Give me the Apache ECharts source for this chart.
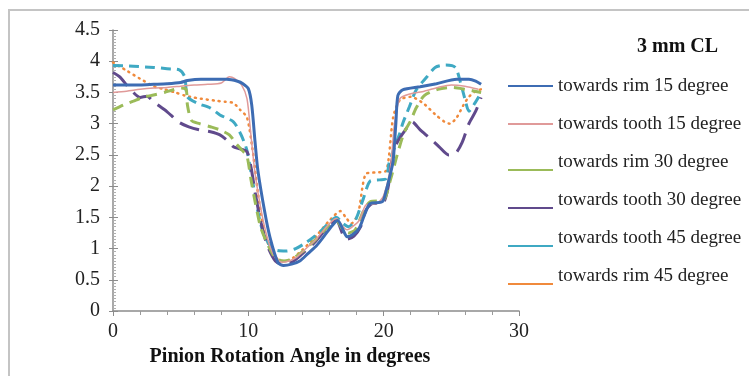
<!DOCTYPE html>
<html>
<head>
<meta charset="utf-8">
<script src="https://cdn.jsdelivr.net/npm/echarts@6/dist/echarts.min.js"></script>
<style>
html,body{margin:0;padding:0;background:#fff;}
#chart{width:749px;height:376px;}
</style>
</head>
<body>
<div id="chart"></div>
<script>
var seriesNames = ['towards rim 15 degree','towards tooth 15 degree','towards rim 30 degree','towards tooth 30 degree','towards tooth 45 degree','towards rim 45 degree'];
var xTicks = [0, 10, 20, 30];
var yTicks = [0, 0.5, 1, 1.5, 2, 2.5, 3, 3.5, 4, 4.5];

var rim15 = [[0,3.62],[1,3.62],[2,3.62],[3,3.63],[4,3.64],[5,3.66],[5.5,3.69],[6.5,3.71],[7.5,3.71],[8.4,3.71],[9.2,3.68],[9.6,3.64],[10.0,3.56],[10.25,3.3],[10.5,2.7],[10.7,2.26],[11.2,1.6],[11.6,1.18],[12.2,0.77],[12.6,0.73],[13.2,0.75],[13.8,0.8],[14.4,0.92],[15.05,1.05],[15.6,1.2],[16.2,1.37],[16.6,1.45],[17.0,1.3],[17.3,1.19],[17.7,1.22],[18.2,1.33],[18.6,1.55],[19.0,1.72],[19.9,1.75],[20.2,1.94],[20.5,2.2],[20.7,2.4],[20.9,3.0],[21.05,3.45],[21.4,3.54],[22.7,3.59],[23.9,3.64],[25.4,3.71],[26.3,3.71],[26.8,3.68],[27.2,3.63]];
var tooth15 = [[0,3.5],[1,3.52],[2,3.55],[3,3.57],[4,3.58],[5,3.6],[6,3.62],[7,3.63],[8,3.65],[8.6,3.75],[9.0,3.72],[9.5,3.62],[9.9,3.4],[10.2,2.8],[10.5,2.2],[11,1.55],[11.5,1.1],[12,0.85],[12.5,0.78],[13,0.8],[13.5,0.85],[14,0.95],[15,1.15],[16,1.4],[16.5,1.48],[17,1.35],[17.3,1.3],[17.7,1.35],[18.2,1.45],[18.7,1.7],[19.5,1.72],[20,1.85],[20.5,2.3],[20.8,3.0],[21.2,3.4],[22,3.48],[23,3.52],[24,3.58],[25,3.62],[26,3.6],[27,3.55]];
var rim30 = [[0,3.22],[0.8,3.3],[1.5,3.36],[2.2,3.42],[3,3.46],[3.8,3.5],[4.4,3.54],[5.0,3.57],[5.4,3.55],[5.5,3.3],[5.8,3.05],[6.4,3.0],[7.2,2.95],[7.9,2.9],[8.6,2.82],[9.1,2.68],[9.6,2.56],[9.9,2.48],[10.2,2.1],[10.5,1.75],[10.9,1.35],[11.4,1.08],[12,0.85],[12.6,0.8],[13.2,0.83],[14,0.95],[15,1.15],[16,1.38],[16.5,1.45],[17,1.3],[17.4,1.25],[17.9,1.3],[18.5,1.6],[19,1.75],[20,1.78],[20.5,2.1],[21,2.5],[21.5,2.85],[22,3.05],[22.4,3.25],[23,3.45],[24,3.55],[25,3.58],[26,3.55],[27.2,3.5]];
var tooth30 = [[0,3.82],[0.5,3.75],[1.0,3.62],[1.5,3.5],[2.0,3.42],[2.5,3.44],[3.0,3.35],[4.0,3.19],[4.9,3.02],[5.6,2.95],[6.4,2.9],[7.2,2.87],[7.9,2.82],[8.5,2.72],[8.9,2.63],[9.3,2.6],[9.9,2.55],[10.2,2.3],[10.5,1.9],[10.9,1.45],[11.4,1.05],[12,0.8],[12.5,0.75],[13.2,0.78],[14,0.92],[15,1.12],[16,1.38],[16.5,1.45],[17,1.22],[17.3,1.15],[17.8,1.2],[18.3,1.35],[18.7,1.62],[19.2,1.72],[19.9,1.72],[20.3,1.95],[20.6,2.4],[21.0,2.7],[21.6,2.9],[22.1,3.03],[22.7,2.9],[23.4,2.77],[24.1,2.63],[24.8,2.5],[25.3,2.52],[25.8,2.7],[26.3,3.0],[26.8,3.2],[27.2,3.42]];
var tooth45 = [[0,3.93],[1.5,3.92],[3,3.9],[4,3.88],[4.9,3.86],[5.3,3.75],[5.5,3.43],[6.2,3.33],[7.2,3.25],[7.9,3.14],[8.9,3.03],[9.4,2.85],[9.7,2.7],[9.9,2.57],[10.3,2.1],[10.7,1.6],[11.1,1.25],[11.6,1.05],[12.1,0.97],[12.8,0.96],[13.5,1.0],[14.3,1.1],[15.2,1.25],[16,1.42],[16.5,1.5],[17,1.4],[17.4,1.35],[17.9,1.45],[18.5,1.8],[19,2.08],[19.7,2.1],[20.2,2.12],[20.4,2.37],[21.2,2.85],[21.4,3.0],[21.9,3.27],[22.4,3.54],[23.2,3.75],[23.8,3.9],[24.6,3.94],[25.3,3.9],[25.7,3.64],[26.0,3.4],[26.3,3.2],[26.8,3.35],[27.2,3.5]];
var rim45 = [[0,3.98],[1,3.85],[2,3.72],[3,3.6],[3.8,3.55],[4.6,3.5],[5.3,3.45],[5.7,3.43],[6.5,3.4],[7.5,3.37],[8.3,3.35],[8.9,3.33],[9.4,3.22],[9.9,3.1],[10.3,2.6],[10.7,1.9],[11.1,1.35],[11.6,1.0],[12.2,0.82],[12.7,0.8],[13.3,0.85],[14,0.98],[15,1.2],[16,1.45],[16.8,1.6],[17.2,1.5],[17.6,1.4],[18.1,1.55],[18.7,2.2],[19.5,2.22],[20.2,2.25],[20.7,3.1],[21.2,3.38],[22,3.43],[22.9,3.33],[23.8,3.15],[24.5,3.03],[24.9,3.0],[25.4,3.1],[25.9,3.3],[26.3,3.43],[26.8,3.52],[27.2,3.55]];

var seriesData = [rim15, tooth15, rim30, tooth30, tooth45, rim45];
var colors = ['#3d6cb3', '#e09a99', '#9bbb59', '#604a8c', '#3fa9c3', '#f08a3c'];
var widths = [3, 1.5, 3, 3, 3, 2.5];
var dashes = ['solid', 'solid', [11, 7], [20, 9], [10, 6], [1, 5]];

var serif = '"Liberation Serif", "DejaVu Serif", serif';
var midIcon = 'path://M0,0 M0,11 L45,11 L45,13 L0,13 Z M0,24';
var lowIcon = 'path://M0,0 M0,19 L45,19 L45,21 L0,21 Z M0,24';

var chart = echarts.init(document.getElementById('chart'), null, {renderer: 'canvas'});

var series = seriesNames.map(function (n, i) {
  return {
    name: n,
    type: 'line',
    xAxisIndex: 0,
    yAxisIndex: 0,
    data: seriesData[i],
    showSymbol: false,
    symbol: 'none',
    smooth: 0.25,
    z: 10 - i,
    lineStyle: {color: colors[i], width: widths[i], type: dashes[i], cap: i === 5 ? 'round' : 'butt'},
    itemStyle: {color: colors[i]}
  };
});

function axisBase(extra) {
  return Object.assign({
    type: 'value',
    splitLine: {show: false}
  }, extra);
}

var option = {
  animation: false,
  backgroundColor: '#fff',
  title: {
    text: '3 mm CL',
    left: 632, top: 32,
    textStyle: {fontFamily: serif, fontSize: 20, fontWeight: 'bold', color: '#111'}
  },
  legend: {
    orient: 'vertical',
    left: 503, top: 69,
    itemWidth: 45, itemHeight: 24,
    itemGap: 14,
    textStyle: {fontFamily: serif, fontSize: 19, color: '#222', lineHeight: 24},
    data: seriesNames.map(function (n, i) {
      return {name: n, icon: i < 2 ? midIcon : lowIcon, itemStyle: {color: colors[i], borderWidth: 0}};
    })
  },
  grid: {left: 113, top: 30, width: 406, height: 281, containLabel: false},
  xAxis: [
    axisBase({
      min: 0, max: 30, interval: 10,
      name: 'Pinion Rotation Angle in degrees',
      nameLocation: 'middle', nameGap: 33,
      nameTextStyle: {fontFamily: serif, fontSize: 20, fontWeight: 'bold', color: '#111', padding: [0, 52, 0, 0]},
      axisLine: {show: true, lineStyle: {color: '#8c8c8c', width: 1.5}},
      axisTick: {show: true, length: 5, lineStyle: {color: '#8c8c8c'}},
      minorTick: {show: true, splitNumber: 5, length: 4, lineStyle: {color: '#9a9a9a'}},
      axisLabel: {fontFamily: serif, fontSize: 20, color: '#222', margin: 11, formatter: function (v) { return xTicks.indexOf(v) >= 0 ? String(v) : ''; }}
    }),
    axisBase({
      min: 0, max: 30, interval: 10,
      axisLine: {show: false},
      axisTick: {show: true, inside: true, length: 5, lineStyle: {color: '#8c8c8c'}},
      axisLabel: {show: false}
    })
  ],
  yAxis: [
    axisBase({
      min: 0, max: 4.5, interval: 0.5,
      axisLine: {show: true, lineStyle: {color: '#8c8c8c', width: 1.5}},
      axisTick: {show: true, length: 4, lineStyle: {color: '#8c8c8c'}},
      minorTick: {show: false},
      axisLabel: {fontFamily: serif, fontSize: 20, color: '#222', margin: 13, formatter: function (v) { return yTicks.indexOf(v) >= 0 ? String(v) : ''; }}
    }),
    axisBase({
      min: 0, max: 4.5, interval: 0.5,
      position: 'left',
      axisLine: {show: false},
      axisTick: {show: true, inside: true, length: 5, lineStyle: {color: '#8c8c8c'}},
      minorTick: {show: true, splitNumber: 10, length: 3, lineStyle: {color: '#b0b0b0'}},
      axisLabel: {show: false}
    })
  ],
  graphic: [
    {type: 'line', shape: {x1: 8, y1: 10, x2: 749, y2: 10}, style: {stroke: '#c4c4c4', lineWidth: 2}},
    {type: 'line', shape: {x1: 9, y1: 10, x2: 9, y2: 376}, style: {stroke: '#c4c4c4', lineWidth: 2}}
  ],
  series: series
};
chart.setOption(option);
</script>
</body>
</html>
